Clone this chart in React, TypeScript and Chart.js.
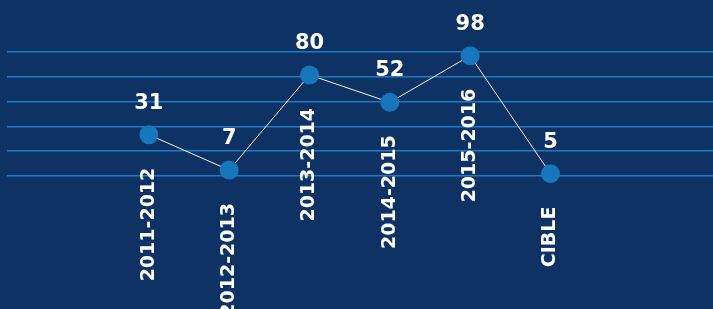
import React, { useEffect, useRef } from "react";
import { Chart, registerables } from "chart.js";

Chart.register(...registerables);

const categories = ["2011-2012", "2012-2013", "2013-2014", "2014-2015", "2015-2016", "CIBLE"];
const valueLabels = ["31", "7", "80", "52", "98", "5"];
// point heights as read against the gridlines (0..100 scale)
const values = [33.3, 4.8, 81.5, 59.4, 97, 1.9];
const yTicks = [0, 20, 40, 60, 80, 100];

const BG = "#0e3264";
const GRID = "#1c7cc6";
const POINT = "#1677bd";

const labelPlugin = {
  id: "pointLabels",
  afterDatasetsDraw(chart: any) {
    const ctx = chart.ctx;
    const meta = chart.getDatasetMeta(0);
    ctx.save();
    ctx.fillStyle = "#ffffff";
    meta.data.forEach((pt: any, i: number) => {
      const { x, y } = pt.getProps(["x", "y"], true);
      ctx.font = "bold 21px 'DejaVu Sans'";
      ctx.textAlign = "center";
      ctx.textBaseline = "alphabetic";
      ctx.fillText(valueLabels[i], x, y - 26);
      ctx.save();
      ctx.translate(x, y + 33);
      ctx.rotate(-Math.PI / 2);
      ctx.font = "bold 19px 'DejaVu Sans'";
      ctx.textAlign = "right";
      ctx.textBaseline = "middle";
      ctx.fillText(categories[i], 0, 0);
      ctx.restore();
    });
    ctx.restore();
  },
};

export default function App() {
  const ref = useRef<HTMLCanvasElement | null>(null);
  useEffect(() => {
    if (!ref.current) return;
    const chart = new Chart(ref.current, {
      type: "line",
      data: {
        datasets: [
          {
            data: values.map((v, i) => ({ x: i, y: v })),
            borderColor: "#f2f5f9",
            borderWidth: 1,
            pointRadius: 9.5,
            pointHoverRadius: 9.5,
            pointBackgroundColor: POINT,
            pointBorderWidth: 0,
            clip: false,
            tension: 0,
          },
        ],
      },
      options: {
        animation: false,
        responsive: false,
        events: [],
        layout: { autoPadding: false, padding: { left: 7, top: 52, bottom: 133, right: 0 } },
        plugins: { legend: { display: false }, tooltip: { enabled: false } },
        scales: {
          x: { type: "linear", min: -1.766, max: 7.023, display: false },
          y: {
            min: 0,
            max: 100,
            afterBuildTicks: (s: any) => {
              s.ticks = yTicks.map((v) => ({ value: v }));
            },
            afterFit: (s: any) => {
              s.width = 0;
            },
            ticks: { display: false },
            border: { display: false },
            grid: { color: GRID, lineWidth: 1.5, drawTicks: false },
          },
        },
      },
      plugins: [labelPlugin],
    });
    return () => chart.destroy();
  }, []);
  return (
    <div style={{ position: "fixed", left: 0, top: 0, width: 713, height: 309, background: BG }}>
      <canvas ref={ref} width={713} height={309} />
    </div>
  );
}
